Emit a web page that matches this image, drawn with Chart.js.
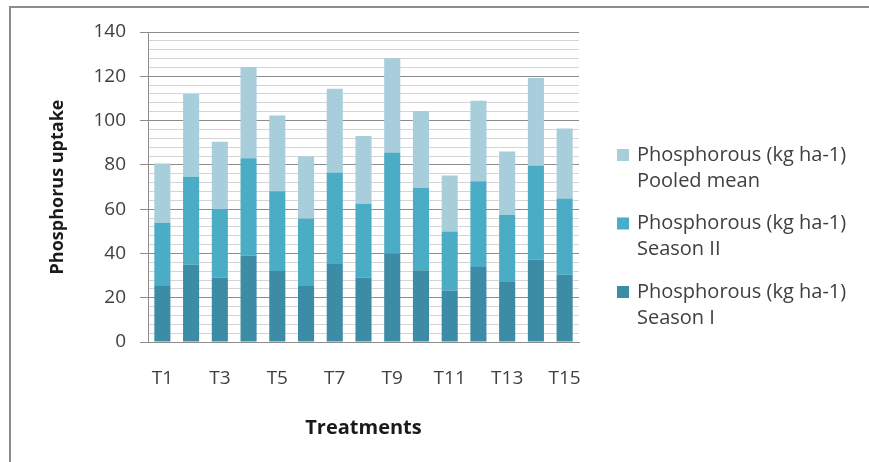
<!DOCTYPE html>
<html>
<head>
<meta charset="utf-8">
<script src="https://cdn.jsdelivr.net/npm/chart.js@4"></script>
<style>
  html, body { margin: 0; padding: 0; background: #fff; }
  #wrap { position: relative; width: 869px; height: 462px; overflow: hidden; }
  #frame { position: absolute; left: 9px; top: 6px; width: 900px; height: 500px; border-top: 2px solid #8c8c8c; border-left: 2px solid #8c8c8c; box-sizing: border-box; pointer-events: none; }
  canvas { position: absolute; left: 0; top: 0; }
</style>
</head>
<body>
<div id="wrap">
  <canvas id="c" width="869" height="462"></canvas>
  <div id="frame"></div>
</div>
<script>
const categories = ['T1','T2','T3','T4','T5','T6','T7','T8','T9','T10','T11','T12','T13','T14','T15'];
const seasonI  = [25.6, 35.0, 29.1, 38.9, 32.1, 25.6, 35.6, 29.1, 39.9, 32.4, 23.1, 33.9, 27.4, 37.1, 30.4];
const seasonII = [28.2, 39.6, 31.0, 44.1, 36.0, 30.2, 41.0, 33.3, 45.7, 37.2, 26.8, 38.7, 29.9, 42.6, 34.4];
const pooledMean = [26.8, 37.4, 30.3, 41.2, 34.2, 28.0, 37.8, 30.6, 42.5, 34.7, 25.3, 36.3, 28.7, 39.5, 31.6];
const seriesLabels = ['Phosphorous (kg ha-1) Season I', 'Phosphorous (kg ha-1) Season II', 'Phosphorous (kg ha-1) Pooled mean'];
const yTitle = 'Phosphorus uptake';
const xTitle = 'Treatments';

const FONT = '"Open Sans", Lato, sans-serif';
const TXT = '#404040';

const legendPlugin = {
  id: 'sideLegend',
  afterDraw(chart) {
    const ctx = chart.ctx;
    const ds = chart.data.datasets.slice().reverse();
    ctx.save();
    ctx.font = '20px ' + FONT;
    ctx.textBaseline = 'middle';
    let y = 155;
    ds.forEach(d => {
      const idx = d.label.indexOf(')') + 1;
      const l1 = d.label.slice(0, idx);
      const l2 = d.label.slice(idx + 1);
      ctx.fillStyle = d.backgroundColor;
      ctx.fillRect(617, y - 6, 12, 12);
      ctx.fillStyle = TXT;
      ctx.fillText(l1, 637, y);
      ctx.fillText(l2, 637, y + 26);
      y += 68.5;
    });
    ctx.restore();
  }
};

new Chart(document.getElementById('c'), {
  type: 'bar',
  data: {
    labels: categories,
    datasets: [
      { label: seriesLabels[0], data: seasonI, backgroundColor: '#3c8ca5' },
      { label: seriesLabels[1], data: seasonII, backgroundColor: '#4bacc6' },
      { label: seriesLabels[2], data: pooledMean, backgroundColor: '#a8cedc' }
    ]
  },
  options: {
    responsive: false,
    animation: false,
    devicePixelRatio: 1,
    layout: { padding: { left: 0, right: 290, top: 32, bottom: 22 } },
    datasets: { bar: { barPercentage: 0.56, categoryPercentage: 1, borderWidth: 0 } },
    plugins: { legend: { display: false }, tooltip: { enabled: false } },
    scales: {
      x: {
        stacked: true,
        grid: { display: false },
        border: { display: true, color: '#8c8c8c', width: 1 },
        ticks: {
          autoSkip: false, maxRotation: 0, padding: 17,
          color: TXT, font: { family: FONT, size: 19 },
          callback: (v, i) => (i % 2 === 0 ? categories[i] : '')
        },
        title: { display: true, text: xTitle, color: '#1a1a1a', font: { family: FONT, size: 20, weight: 'bold' }, padding: { top: 14, bottom: 0 } },
        afterFit(s) { s.height = 98; }
      },
      y: {
        stacked: true,
        min: 0, max: 140,
        ticks: {
          autoSkip: false,
          stepSize: 4, padding: 14, color: TXT, font: { family: FONT, size: 19 },
          callback: v => (v % 20 === 0 ? v : '')
        },
        grid: {
          color: c => (c.tick && c.tick.value % 20 === 0 ? '#8c8c8c' : '#d4d4d4'),
          tickColor: c => (c.tick && c.tick.value % 20 === 0 ? '#8c8c8c' : 'rgba(0,0,0,0)'),
          tickLength: 8, lineWidth: 1
        },
        border: { display: true, color: '#8c8c8c', width: 1 },
        title: { display: true, text: yTitle, color: '#1a1a1a', font: { family: FONT, size: 18, weight: 'bold' }, padding: { top: 47, bottom: 0 } },
        afterFit(s) { s.width = 148; }
      }
    }
  },
  plugins: [legendPlugin]
});
</script>
</body>
</html>
